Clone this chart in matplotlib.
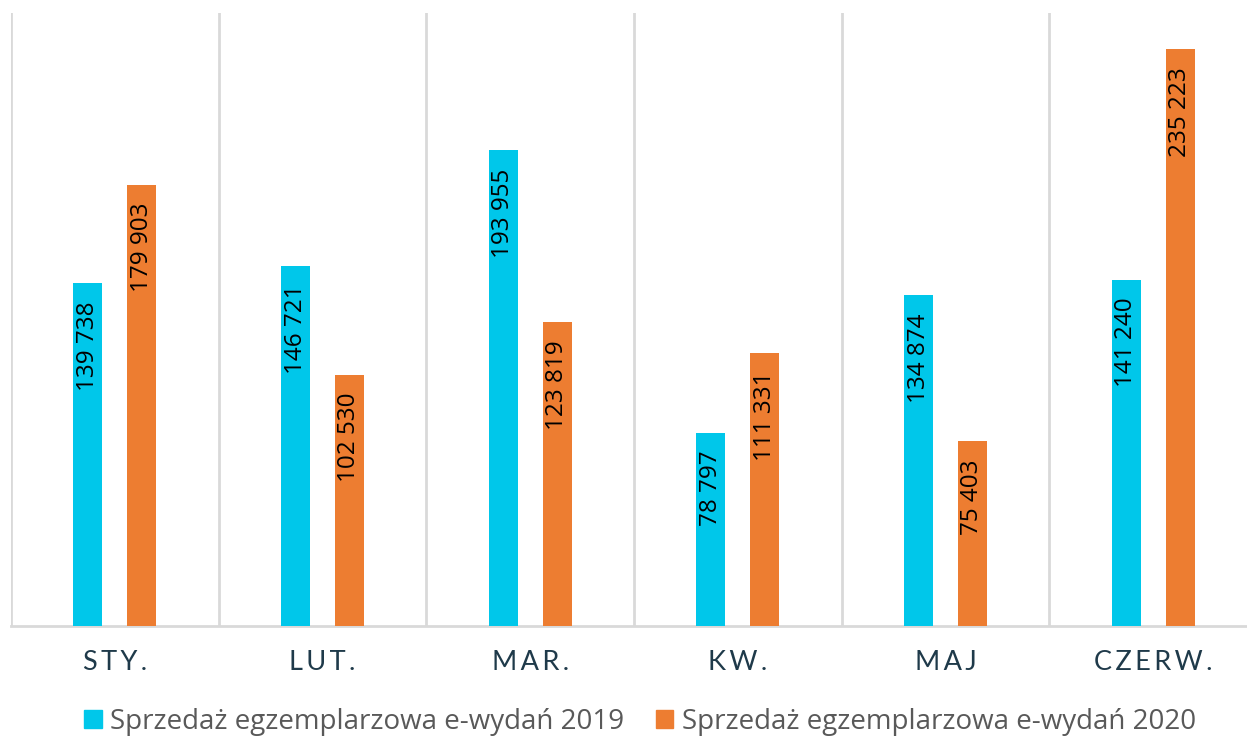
import numpy as np
import matplotlib
matplotlib.use("Agg")
from matplotlib import pyplot as plt
from matplotlib.patches import Patch

months = ["STY.", "LUT.", "MAR.", "KW.", "MAJ", "CZERW."]
sales_2019 = [139738, 146721, 193955, 78797, 134874, 141240]
sales_2020 = [179903, 102530, 123819, 111331, 75403, 235223]
series_names = ["Sprzedaż egzemplarzowa e-wydań 2019", "Sprzedaż egzemplarzowa e-wydań 2020"]

blue = "#00C7EA"
orange = "#ED7D31"
grid_c = "#D9D9D9"

W, H = 1247, 738
fig = plt.figure(figsize=(W / 100, H / 100), dpi=100)
ax = fig.add_axes([11 / W, (H - 626) / H, (1257 - 11) / W, (626 - 13) / H])

x = np.arange(len(months))
off, bw = 0.13, 0.14
ax.bar(x - off, sales_2019, bw, color=blue, zorder=3)
ax.bar(x + off, sales_2020, bw, color=orange, zorder=3)

def fmt(v):
    return f"{v:,}".replace(",", " ")

for xs, vals in ((x - off, sales_2019), (x + off, sales_2020)):
    for xi, v in zip(xs, vals):
        ax.annotate(fmt(v), (xi, v), xytext=(0, -18), textcoords="offset pixels",
                    rotation=90, ha="center", va="top", fontsize=17.5,
                    family="Open Sans", color="black", zorder=4)

ax.set_xlim(-0.5, len(months) - 0.5)
ax.set_ylim(0, 250000)
ax.set_yticks([])
ax.set_xticks(x)
# litery rozstrzelone jak w oryginale
ax.set_xticklabels(["\u2009".join(m) for m in months], family=["Lato", "DejaVu Sans"],
                   fontsize=19.5, color="#1F3A4A")
ax.tick_params(axis="x", length=0, pad=17)
ax.set_xticks(np.arange(-0.5, len(months)), minor=True)
ax.tick_params(axis="x", which="minor", length=0)
ax.grid(axis="x", which="minor", color=grid_c, lw=2, zorder=0)
for s in ("top", "left", "right"):
    ax.spines[s].set_visible(False)
ax.spines["bottom"].set_color(grid_c)
ax.spines["bottom"].set_linewidth(2)

handles = [Patch(color=blue), Patch(color=orange)]
fig.legend(handles, series_names, loc="center", ncol=2,
           bbox_to_anchor=(640 / W, (H - 722) / H), frameon=False,
           prop={"family": "Open Sans", "size": 20}, labelcolor="#595959",
           handlelength=0.62, handleheight=0.62, handletextpad=0.3,
           columnspacing=1.15, borderpad=0)

fig.savefig("out.png", dpi=100)
